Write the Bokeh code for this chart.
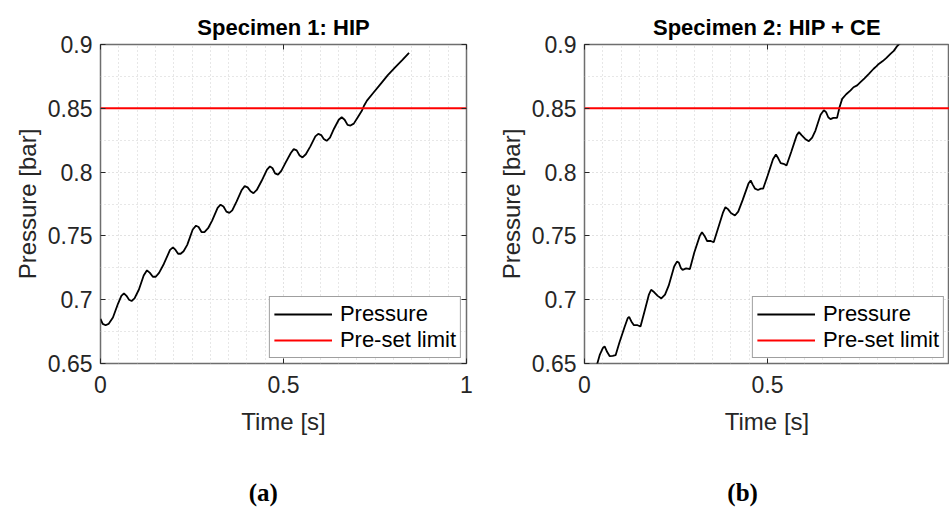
from bokeh.plotting import figure
from bokeh.models import FixedTicker, LinearAxis, Range1d
from bokeh.layouts import row, column
from bokeh.core.properties import value
from bokeh.embed import file_html
from bokeh.resources import INLINE

# ---------------- data ----------------
TITLES = ["Specimen 1: HIP", "Specimen 2: HIP + CE"]
CAPTIONS = ["(a)", "(b)"]
X_LABEL = "Time [s]"
Y_LABEL = "Pressure [bar]"
SERIES_LABELS = ["Pressure", "Pre-set limit"]
LIMIT = 0.85
X_RANGE = [0.0, 1.0]
Y_RANGE = [0.65, 0.9]
X_TICKS = [0, 0.5, 1]
X_TICK_LABELS = ["0", "0.5", "1"]
Y_TICKS = [0.65, 0.7, 0.75, 0.8, 0.85, 0.9]
Y_TICK_LABELS = ["0.65", "0.7", "0.75", "0.8", "0.85", "0.9"]
X_MINOR = [0.05, 0.1, 0.15, 0.2, 0.25, 0.3, 0.35, 0.4, 0.45,
           0.55, 0.6, 0.65, 0.7, 0.75, 0.8, 0.85, 0.9, 0.95]
Y_MINOR = [0.675, 0.725, 0.775, 0.825, 0.875]

T1 = [0.000, 0.006, 0.014, 0.022, 0.034, 0.048, 0.057, 0.064, 0.071, 0.078,
      0.085, 0.093, 0.105, 0.118, 0.127, 0.135, 0.143, 0.151, 0.160, 0.173,
      0.190, 0.198, 0.205, 0.212, 0.219, 0.227, 0.237, 0.252, 0.261, 0.268,
      0.276, 0.284, 0.294, 0.305, 0.320, 0.328, 0.336, 0.344, 0.352, 0.360,
      0.372, 0.386, 0.394, 0.402, 0.410, 0.418, 0.427, 0.440, 0.455, 0.463,
      0.470, 0.477, 0.485, 0.494, 0.505, 0.520, 0.528, 0.536, 0.544, 0.552,
      0.561, 0.573, 0.587, 0.595, 0.603, 0.610, 0.618, 0.627, 0.638, 0.651,
      0.659, 0.667, 0.675, 0.683, 0.692, 0.703, 0.714, 0.720, 0.728, 0.745,
      0.765, 0.785, 0.805, 0.825, 0.843]
P1 = [0.685, 0.681, 0.680, 0.681, 0.686, 0.697, 0.703, 0.705, 0.703, 0.700,
      0.699, 0.701, 0.708, 0.719, 0.723, 0.721, 0.718, 0.718, 0.721, 0.728,
      0.739, 0.741, 0.739, 0.736, 0.736, 0.738, 0.743, 0.755, 0.758, 0.757,
      0.753, 0.753, 0.756, 0.762, 0.772, 0.7745, 0.773, 0.769, 0.768, 0.770,
      0.777, 0.786, 0.789, 0.788, 0.785, 0.7835, 0.786, 0.793, 0.802, 0.8045,
      0.803, 0.799, 0.798, 0.801, 0.807, 0.815, 0.818, 0.817, 0.813, 0.8115,
      0.814, 0.820, 0.828, 0.830, 0.829, 0.826, 0.8245, 0.827, 0.834, 0.841,
      0.843, 0.841, 0.837, 0.8365, 0.838, 0.843, 0.848, 0.852, 0.856, 0.862,
      0.869, 0.876, 0.882, 0.888, 0.8935]

T2 = [0.025, 0.042, 0.050, 0.055, 0.062, 0.069, 0.077, 0.085, 0.095, 0.110,
      0.118, 0.122, 0.128, 0.135, 0.145, 0.153, 0.165, 0.176, 0.182, 0.190,
      0.200, 0.210, 0.220, 0.230, 0.245, 0.253, 0.258, 0.263, 0.268, 0.278,
      0.288, 0.300, 0.315, 0.321, 0.328, 0.335, 0.345, 0.353, 0.365, 0.378,
      0.385, 0.392, 0.400, 0.411, 0.420, 0.432, 0.448, 0.454, 0.460, 0.466,
      0.474, 0.482, 0.488, 0.500, 0.515, 0.523, 0.529, 0.536, 0.544, 0.552,
      0.565, 0.580, 0.586, 0.593, 0.603, 0.613, 0.622, 0.631, 0.645, 0.654,
      0.660, 0.666, 0.672, 0.680, 0.690, 0.697, 0.704, 0.715, 0.727, 0.735,
      0.745, 0.754, 0.765, 0.777, 0.790, 0.798, 0.804, 0.815, 0.825, 0.836,
      0.845, 0.855, 0.862, 0.870]
P2 = [0.640, 0.657, 0.662, 0.6635, 0.659, 0.6557, 0.656, 0.6565, 0.666, 0.679,
      0.6855, 0.6865, 0.683, 0.680, 0.680, 0.679, 0.692, 0.704, 0.7078, 0.706,
      0.703, 0.701, 0.704, 0.711, 0.726, 0.730, 0.729, 0.725, 0.7234, 0.7245,
      0.724, 0.737, 0.750, 0.7529, 0.750, 0.746, 0.746, 0.745, 0.756, 0.768,
      0.7725, 0.771, 0.768, 0.766, 0.769, 0.778, 0.791, 0.7934, 0.790, 0.787,
      0.786, 0.787, 0.787, 0.797, 0.810, 0.8138, 0.811, 0.807, 0.8065, 0.8052,
      0.816, 0.829, 0.8313, 0.829, 0.826, 0.8242, 0.827, 0.8326, 0.845, 0.8485,
      0.847, 0.843, 0.8415, 0.8425, 0.8425, 0.851, 0.8574, 0.861, 0.864, 0.8665,
      0.868, 0.8705, 0.8735, 0.877, 0.881, 0.883, 0.8848, 0.887, 0.8895, 0.8927,
      0.895, 0.899, 0.901, 0.904]

# ---------------- styling ----------------
FONT = "Liberation Sans"
TXT = "#262626"
FRAME_PX = 366.0          # pixels per unit time in the reference
TOTAL_W, TOTAL_H = 949, 507
CAP_H = 40                # strip holding the (a)/(b) captions
HEIGHT = TOTAL_H - CAP_H
B_LEFT, B_TOP, FRAME_H = 100, 44, 319
PANEL_W = [484, TOTAL_W - 484]
BORDER_R = [18, 0]
CAP_FRAC = [0.445, 0.432]  # caption centre, as fraction of the frame width


def style_axis(ax, show_labels, ticks=None):
    ax.axis_line_color = None
    ax.major_tick_in = 5
    ax.major_tick_out = 0
    ax.minor_tick_in = 0
    ax.minor_tick_out = 0
    ax.major_tick_line_color = TXT
    ax.major_tick_line_width = 1
    if show_labels:
        ax.major_label_text_font = FONT
        ax.major_label_text_font_size = "23px"
        ax.major_label_text_color = TXT
        ax.axis_label_text_font = FONT
        ax.axis_label_text_font_size = "24px"
        ax.axis_label_text_font_style = "normal"
        ax.axis_label_text_color = TXT
    else:
        ax.major_label_overrides = {t: "" for t in ticks}
        ax.major_label_standoff = 0


def make_panel(idx, t, p, right_axis):
    width = PANEL_W[idx]
    border_right = BORDER_R[idx]
    frame_w = width - B_LEFT - border_right
    xmax = X_RANGE[0] + frame_w / FRAME_PX
    fig = figure(width=width, height=HEIGHT,
                 x_range=Range1d(X_RANGE[0], xmax),
                 y_range=Range1d(Y_RANGE[0], Y_RANGE[1]),
                 output_backend="svg", toolbar_location=None,
                 min_border_left=B_LEFT, min_border_right=border_right,
                 min_border_top=B_TOP, min_border_bottom=HEIGHT - B_TOP - FRAME_H,
                 title=TITLES[idx])
    fig.title.text_font = FONT
    fig.title.text_font_size = "22px"
    fig.title.text_font_style = "bold"
    fig.title.text_color = "black"
    fig.title.align = "center"
    fig.title.standoff = 9

    fig.outline_line_color = "#6e6e6e"
    fig.outline_line_width = 1.5
    fig.background_fill_color = "white"
    fig.border_fill_color = "white"

    xt = FixedTicker(ticks=X_TICKS, minor_ticks=X_MINOR)
    yt = FixedTicker(ticks=Y_TICKS, minor_ticks=Y_MINOR)
    fig.xaxis.ticker = xt
    fig.yaxis.ticker = yt
    fig.xaxis.major_label_overrides = dict(zip(X_TICKS, X_TICK_LABELS))
    fig.yaxis.major_label_overrides = dict(zip(Y_TICKS, Y_TICK_LABELS))
    fig.xaxis.axis_label = X_LABEL
    fig.yaxis.axis_label = Y_LABEL
    for ax in fig.xaxis + fig.yaxis:
        style_axis(ax, True)
    fig.xaxis.major_label_standoff = 12
    fig.yaxis.major_label_standoff = 8
    fig.xaxis.axis_label_standoff = 12
    fig.yaxis.axis_label_standoff = 4

    top = LinearAxis(ticker=xt)
    style_axis(top, False, X_TICKS)
    fig.add_layout(top, "above")
    if right_axis:
        rax = LinearAxis(ticker=yt)
        style_axis(rax, False, Y_TICKS)
        fig.add_layout(rax, "right")

    for g in (fig.xgrid, fig.ygrid):
        g.grid_line_color = "#c4c4c4"
        g.grid_line_dash = "1 3"
        g.grid_line_width = 1
        g.minor_grid_line_color = "#cfcfcf"
        g.minor_grid_line_dash = "1 3"
        g.minor_grid_line_width = 1

    fig.line(t, p, color="black", line_width=1.8, legend_label=SERIES_LABELS[0])
    fig.line(X_RANGE, [LIMIT, LIMIT], color="#ff0000", line_width=2,
             legend_label=SERIES_LABELS[1])

    lg = fig.legend[0]
    lg.location = "bottom_right"
    lg.margin = 5
    lg.padding = 4
    lg.spacing = 0
    lg.glyph_width = 58
    lg.glyph_height = 24
    lg.label_height = 24
    lg.label_standoff = 8
    lg.label_text_font = FONT
    lg.label_text_font_size = "22px"
    lg.label_text_color = "black"
    lg.border_line_color = "#404040"
    lg.border_line_width = 1
    lg.background_fill_color = "white"
    lg.background_fill_alpha = 1.0
    return fig


p1 = make_panel(0, T1, P1, True)
p2 = make_panel(1, T2, P2, False)

# caption strip (pixel coordinates)
cap = figure(width=TOTAL_W, height=CAP_H, x_range=Range1d(0, TOTAL_W),
             y_range=Range1d(0, CAP_H), output_backend="svg",
             toolbar_location=None, min_border=0)
cap.axis.visible = False
cap.grid.visible = False
cap.outline_line_color = None
cap_x = [sum(PANEL_W[:i]) + B_LEFT + CAP_FRAC[i] * FRAME_PX for i in range(2)]
cap.text(x=cap_x, y=[CAP_H - 25, CAP_H - 25], text=CAPTIONS,
         text_align="center", text_baseline="middle",
         text_font=value("Liberation Serif"), text_font_style="bold",
         text_font_size="25px", text_color="black")

layout = column(row(p1, p2), cap)
open("out.html", "w").write(file_html(layout, INLINE))
